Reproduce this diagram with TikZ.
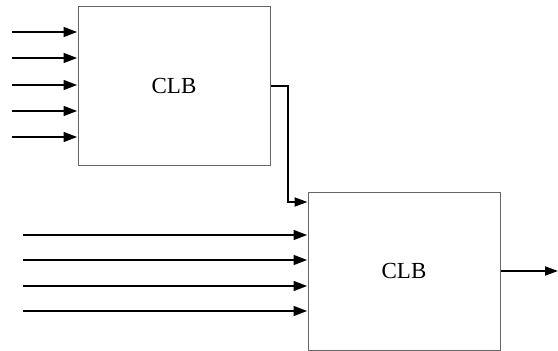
\documentclass[tikz,border=0pt]{standalone}
\usepackage{fontspec}
\setmainfont{Liberation Serif}
\usetikzlibrary{positioning}
\usetikzlibrary{arrows.meta}
\tikzset{clb/.style = {draw = black!60, line width = 1pt, fill = white, inner sep = 0, font = \fontsize{23}{27}\selectfont},
         inarrow/.style = {line width = 2.9pt, -{Triangle[length = 14pt, width = 9.5pt]}},
         wire/.style = {line width = 1.9pt, -{Triangle[length = 13pt, width = 9pt]}}}

\begin{document}
\begin{tikzpicture}[x = 1pt, y = -1pt]
    \useasboundingbox (0,0) rectangle (558,351);
    % the two blocks
    \node[clb, minimum width = 192pt, minimum height = 159pt] (clbA) at (174,85.5) {CLB};
    \node[clb, minimum width = 192pt, minimum height = 158pt] (clbB) at (404,271) {CLB};
    % inputs of the first block
    \foreach \y in {32, 58, 85, 111, 137} {
        \coordinate (inA\y) at (12,\y);
        \draw[inarrow] (inA\y) -- (inA\y -| clbA.west);
    }
    % inputs of the second block
    \foreach \y in {235, 260, 286, 311} {
        \coordinate (inB\y) at (23,\y);
        \draw[inarrow] (inB\y) -- (inB\y -| clbB.west);
    }
    % link between the blocks
    \coordinate (bend) at (288,202);
    \draw[wire] (clbA.east |- 0,86) -| (bend) -- (bend -| clbB.west);
    % output
    \coordinate (out) at (558,271);
    \draw[wire] (clbB.east |- out) -- (out);
\end{tikzpicture}
\end{document}
